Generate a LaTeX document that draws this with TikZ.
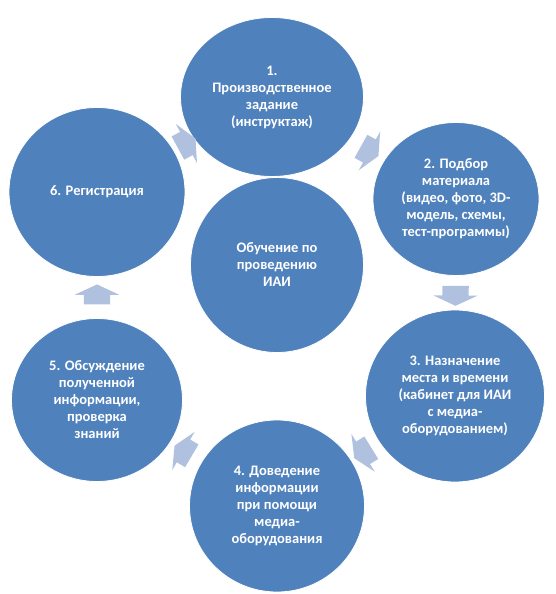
\documentclass[tikz,border=0pt]{standalone}
\usepackage{fontspec}
\setmainfont{Carlito}
\usepackage{tikz}
\usetikzlibrary{shapes.geometric,shapes.arrows,positioning}
\usepackage{xcolor}
\definecolor{stageblue}{RGB}{79,129,189}
\definecolor{arrowblue}{RGB}{176,193,223}
\tikzstyle{stage} = [ellipse, inner sep=0pt, fill=stageblue, draw=white, thick, text=white, align=center, font=\bfseries\fontsize{14.5}{17}\selectfont]
\tikzstyle{cyclearrow} = [single arrow, fill=arrowblue, inner xsep=0pt, inner ysep=13pt, minimum height=20pt, single arrow head extend=9pt, single arrow tip angle=130, sloped, allow upside down]

\begin{document}
\begin{tikzpicture}[on grid]
\useasboundingbox (-277pt,265pt) rectangle (279pt,-329pt);
% Central stage
\node (core) [stage, minimum width=173pt, minimum height=175pt] {Обучение по\\проведению\\ИАИ};
% Cycle stages
\node (c1) [stage, minimum width=183pt, minimum height=159pt, above left=168pt and 5pt of core] {1.\\Производственное\\задание\\(инструктаж)};
\node (c2) [stage, minimum width=166pt, minimum height=153pt, above right=66pt and 179pt of core] {2. Подбор\\материала\\(видео, фото, 3D-\\модель, схемы,\\тест-программы)};
\node (c3) [stage, minimum width=179pt, minimum height=172pt, below right=131pt and 178pt of core] {3. Назначение\\места и времени\\(кабинет для ИАИ\\с медиа-\\оборудованием)};
\node (c4) [stage, minimum width=175pt, minimum height=172pt, below=241pt of core] {4. Доведение\\информации\\при помощи\\медиа-\\оборудования};
\node (c5) [stage, minimum width=171pt, minimum height=163pt, below left=135pt and 180pt of core] {5. Обсуждение\\полученной\\информации,\\проверка\\знаний};
\node (c6) [stage, minimum width=176pt, minimum height=169pt, above left=73pt and 180pt of core] {6. Регистрация};

% Arrows between stages
\path (c1) -- node (a12) [cyclearrow] {} (c2);
\path (c2) -- node (a23) [cyclearrow] {} (c3);
\path (c3) -- node (a34) [cyclearrow] {} (c4);
\path (c4) -- node (a45) [cyclearrow] {} (c5);
\path (c5) -- node (a56) [cyclearrow] {} (c6);
\path (c6) -- node (a61) [cyclearrow] {} (c1);
\end{tikzpicture}
\end{document}
